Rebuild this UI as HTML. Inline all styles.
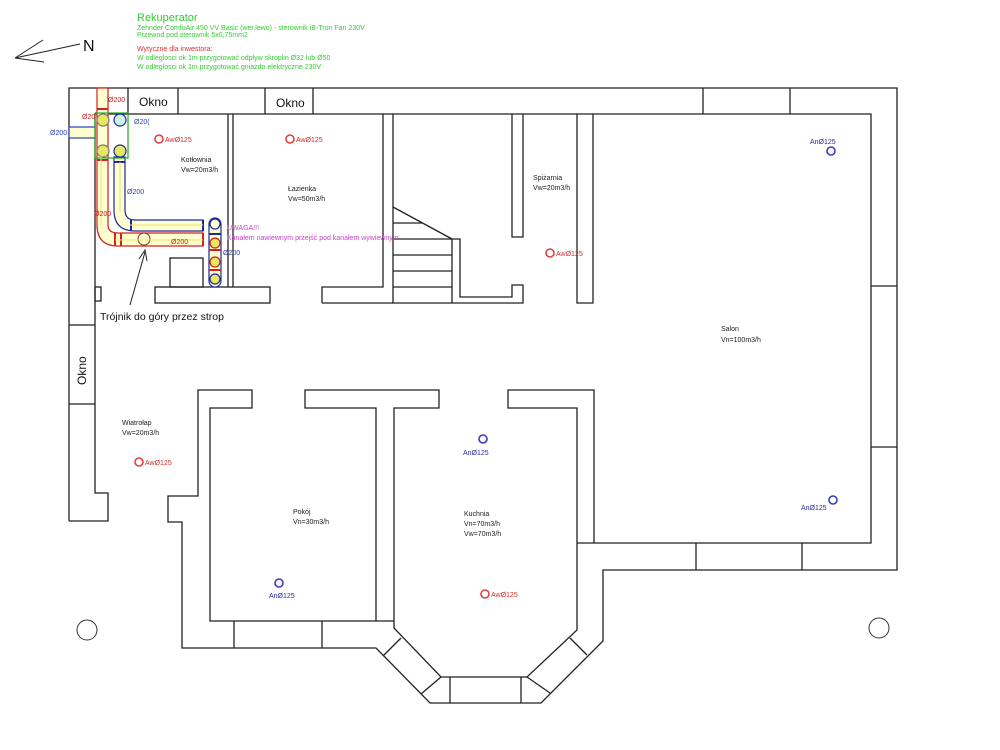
<!DOCTYPE html>
<html><head><meta charset="utf-8"><style>
html,body{margin:0;padding:0;background:#fff;}
svg{display:block;font-family:"Liberation Sans",Arial,sans-serif;}
</style></head><body>
<svg width="1000" height="750" viewBox="0 0 1000 750" xmlns="http://www.w3.org/2000/svg">
<rect width="1000" height="750" fill="#fff"/>
<text x="137" y="21" font-size="11" fill="#33cc33">Rekuperator</text>
<text x="137" y="30" font-size="7" fill="#33cc33">Zehnder ComfoAir 450 VV Basic (wer.lewo) - sterownik iB-Tron Fan 230V</text>
<text x="137" y="37" font-size="7" fill="#33cc33">Przewod pod sterownik 5x0,75mm2</text>
<text x="137" y="51" font-size="7" fill="#e03030">Wytyczne dla inwestora:</text>
<text x="137" y="60" font-size="7" fill="#33cc33">W odleglosci ok 1m przygotować odpływ skroplin Ø32 lub Ø50</text>
<text x="137" y="69" font-size="7" fill="#33cc33">W odleglosci ok 1m przygotować gniazdo elektryczne 230V</text>
<g stroke="#222" stroke-width="1" fill="none">
<line x1="15" y1="58" x2="80" y2="44"/><line x1="15" y1="58" x2="43" y2="40"/><line x1="15" y1="58" x2="44" y2="62"/>
</g>
<text x="83" y="51" font-size="16" fill="#111">N</text>

<g stroke="#222" stroke-width="1.3" fill="none">
<polyline points="69,521 69,88 897,88 897,570 603,570 603,641 541,703 430,703 376,648 182,648 182,522 168,522 168,496 198,496 198,390 252,390 252,408 210,408 210,621 376,621 376,408 305,408 305,390 439,390 439,408 394,408 394,628 441,677 527,677 577,630 577,408 508,408 508,390 594,390 594,543 871,543 871,114 95,114 95,493 108,493 108,521 69,521"/>
<line x1="128" y1="88" x2="128" y2="114"/><line x1="178" y1="88" x2="178" y2="114"/>
<line x1="265" y1="88" x2="265" y2="114"/><line x1="313" y1="88" x2="313" y2="114"/>
<line x1="703" y1="88" x2="703" y2="114"/><line x1="790" y1="88" x2="790" y2="114"/>
<line x1="871" y1="286" x2="897" y2="286"/><line x1="871" y1="447" x2="897" y2="447"/>
<line x1="696" y1="543" x2="696" y2="570"/><line x1="802" y1="543" x2="802" y2="570"/>
<line x1="69" y1="325" x2="95" y2="325"/><line x1="69" y1="404" x2="95" y2="404"/>
<rect x="95" y="287" width="6" height="14"/>
<line x1="234" y1="621" x2="234" y2="648"/><line x1="322" y1="621" x2="322" y2="648"/>
<line x1="376" y1="621" x2="394" y2="621"/>
<line x1="383" y1="656" x2="401" y2="638"/><line x1="421" y1="694" x2="441" y2="677"/>
<line x1="450" y1="677" x2="450" y2="703"/><line x1="521" y1="677" x2="521" y2="703"/>
<line x1="527" y1="677" x2="550" y2="693"/><line x1="570" y1="638" x2="587" y2="655"/>
<line x1="577" y1="543" x2="594" y2="543"/>
<polyline points="228,114 228,287"/><polyline points="233,114 233,287"/>
<rect x="155" y="287" width="115" height="16"/>
<rect x="170" y="258" width="33" height="29"/>
<polyline points="322,303 322,287 383,287 383,114"/>
<polyline points="393,114 393,303 523,303 523,285 512,285 512,297 460,297 460,239 393,239"/>
<line x1="322" y1="303" x2="393" y2="303"/>
<line x1="393" y1="207" x2="452" y2="239"/>
<line x1="393" y1="223" x2="422" y2="223"/>
<line x1="393" y1="255" x2="452" y2="255"/><line x1="393" y1="271" x2="452" y2="271"/><line x1="393" y1="287" x2="452" y2="287"/>
<line x1="452" y1="239" x2="452" y2="303"/>
<polyline points="512,114 512,237 523,237 523,114"/>
<polyline points="577,114 577,303 593,303 593,114"/>
</g>
<circle cx="87" cy="630" r="10" fill="none" stroke="#333" stroke-width="1"/>
<circle cx="879" cy="628" r="10" fill="none" stroke="#333" stroke-width="1"/>

<g stroke-width="1.2">
<rect x="69" y="127" width="26" height="11" fill="#ffffd0" stroke="#2a3fbf"/>
<path d="M97,88 V225 Q97,246 118,246 H203 V233 H118 Q108,233 108,225 V88 Z" fill="#ffffd0" stroke="#d02020"/>
<path d="M114,157 V210 Q114,231 135,231 H203 V220 H135 Q125,220 125,210 V157 Z" fill="#ffffd0" stroke="#1a2a9f"/>
<rect x="209" y="218" width="12" height="69" rx="6" fill="#ffffd0" stroke="#1a2a9f"/>
<rect x="95" y="113" width="33" height="45" fill="none" stroke="#22aa22"/>
<circle cx="103" cy="120" r="6" fill="#e8e860" stroke="#777"/>
<circle cx="120" cy="120" r="6" fill="#d0f0e0" stroke="#1a2a9f"/>
<circle cx="103" cy="151" r="6" fill="#e8e860" stroke="#777"/>
<circle cx="120" cy="151" r="6" fill="#e8e860" stroke="#1a2a9f"/>
<circle cx="144" cy="239" r="6" fill="#ffffd0" stroke="#a04040"/>
<circle cx="215" cy="243" r="5" fill="#e8e860" stroke="#d02020"/>
<circle cx="215" cy="262" r="5" fill="#e8e860" stroke="#d02020"/>
<circle cx="215" cy="279" r="5" fill="#e8e860" stroke="#1a2a9f"/>
<circle cx="215" cy="224" r="5" fill="#ffffd0" stroke="#1a2a9f"/>
</g>
<g stroke="#d02020" stroke-width="2">
<line x1="97" y1="109" x2="108" y2="109"/><line x1="97" y1="160" x2="108" y2="160"/>
<line x1="115" y1="233" x2="115" y2="246"/><line x1="121" y1="233" x2="121" y2="246"/>
<line x1="203" y1="233" x2="203" y2="246"/>
<line x1="209" y1="250" x2="221" y2="250"/><line x1="209" y1="270" x2="221" y2="270"/>
</g>
<g stroke="#1a2a9f" stroke-width="2">
<line x1="114" y1="162" x2="125" y2="162"/><line x1="131" y1="220" x2="131" y2="231"/><line x1="203" y1="220" x2="203" y2="231"/>
<line x1="209" y1="234" x2="221" y2="234"/>
</g>
<line x1="101" y1="150" x2="101" y2="225" stroke="#e8e070" stroke-width="1"/>
<line x1="120" y1="162" x2="120" y2="212" stroke="#e8e070" stroke-width="1"/>
<line x1="130" y1="225" x2="203" y2="225" stroke="#e8e070" stroke-width="1"/>
<line x1="115" y1="240" x2="203" y2="240" stroke="#e8e070" stroke-width="1"/>
<g font-size="7">
<text x="108" y="102" fill="#d02020">Ø200</text>
<text x="82" y="119" fill="#d02020">Ø20</text>
<text x="50" y="135" fill="#2a3fbf">Ø200</text>
<text x="134" y="124" fill="#2a3fbf">Ø20(</text>
<text x="127" y="194" fill="#2a3fbf">Ø200</text>
<text x="94" y="216" fill="#d02020">Ø200</text>
<text x="171" y="244" fill="#d02020">Ø200</text>
<text x="223" y="255" fill="#2a3fbf">Ø200</text>
<text x="227" y="230" fill="#d040d0">UWAGA!!!</text>
<text x="227" y="240" fill="#d040d0">Kanałem nawiewnym przejść pod kanałem wywiewnym</text>
</g>
<line x1="130" y1="305" x2="145" y2="252" stroke="#222" stroke-width="1"/>
<polyline points="139,259 145,250 147,261" fill="none" stroke="#222" stroke-width="1"/>
<text x="100" y="320" font-size="10.5" fill="#111">Trójnik do góry przez strop</text>
<text x="139" y="106" font-size="12" fill="#111">Okno</text>
<text x="276" y="107" font-size="12" fill="#111">Okno</text>
<text transform="translate(86,385) rotate(-90)" font-size="12" fill="#111">Okno</text>
<g fill="none" stroke="#e04040" stroke-width="1.6">
<circle cx="159" cy="139" r="4"/><circle cx="290" cy="139" r="4"/><circle cx="550" cy="253" r="4"/>
<circle cx="139" cy="462" r="4"/><circle cx="485" cy="594" r="4"/>
</g>
<g font-size="7" fill="#d03030">
<text x="165" y="142">AwØ125</text><text x="296" y="142">AwØ125</text><text x="556" y="256">AwØ125</text>
<text x="145" y="465">AwØ125</text><text x="491" y="597">AwØ125</text>
</g>
<g fill="none" stroke="#3a3ac0" stroke-width="1.6">
<circle cx="831" cy="151" r="4"/><circle cx="483" cy="439" r="4"/><circle cx="833" cy="500" r="4"/><circle cx="279" cy="583" r="4"/>
</g>
<g font-size="7" fill="#2a2aa0">
<text x="810" y="144">AnØ125</text><text x="463" y="455">AnØ125</text><text x="801" y="510">AnØ125</text><text x="269" y="598">AnØ125</text>
</g>
<g font-size="7" fill="#222">
<text x="181" y="162">Kotłownia</text><text x="181" y="172">Vw=20m3/h</text>
<text x="288" y="191">Łazienka</text><text x="288" y="201">Vw=50m3/h</text>
<text x="533" y="180">Spiżarnia</text><text x="533" y="190">Vw=20m3/h</text>
<text x="721" y="331">Salon</text><text x="721" y="342">Vn=100m3/h</text>
<text x="122" y="425">Wiatrołap</text><text x="122" y="435">Vw=20m3/h</text>
<text x="293" y="514">Pokój</text><text x="293" y="524">Vn=30m3/h</text>
<text x="464" y="516">Kuchnia</text><text x="464" y="526">Vn=70m3/h</text><text x="464" y="536">Vw=70m3/h</text>
</g>
</svg>
</body></html>
